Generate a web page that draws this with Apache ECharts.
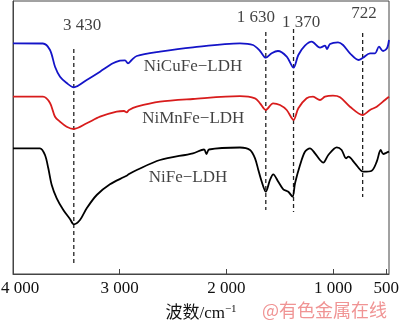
<!DOCTYPE html>
<html>
<head>
<meta charset="utf-8">
<script src="https://cdn.jsdelivr.net/npm/echarts@6/dist/echarts.min.js"></script>
<style>html,body{margin:0;padding:0;background:#fff;}#c{width:400px;height:322px;}</style>
</head>
<body>
<div id="c"></div>
<script>
// ---- data (wavenumber cm^-1, transmittance a.u.) ----
const nicufe = [[4000,230.7],[3720,230.5],[3653,224],[3606,207.3],[3559,197.3],[3497,191],[3430,186.7],[3309,194],[3184,202.3],[3063,210.7],[2997,213.3],[2950,213.7],[2922,210.7],[2887,214],[2840,218],[2622,222.3],[2313,226.7],[1872,230.7],[1750,229],[1684,223],[1630,216.3],[1575,220.7],[1516,223],[1434,217.3],[1370,206.3],[1325,219],[1263,228.3],[1200,232.3],[1122,226.3],[1075,228.3],[1056,225],[1028,230],[953,231.7],[906,229],[841,220.7],[760,214],[719,216.3],[653,220.7],[606,220.7],[569,227.3],[531,223],[494,225.7],[475,234]];
const nimnfe = [[4000,177.3],[3719,177.3],[3653,171],[3606,157.3],[3559,152.3],[3497,147.3],[3430,145],[3309,150.7],[3184,157.3],[3028,162.3],[2959,163],[2934,161.7],[2912,164],[2840,167.3],[2622,172.3],[2313,175],[1872,177.8],[1731,175.7],[1684,170.7],[1630,164],[1562,170.7],[1497,169],[1434,164],[1370,154],[1325,165.7],[1247,175.7],[1187,177.3],[1122,174],[1075,177.3],[1000,178.3],[934,176.7],[841,167.3],[722,159],[653,164],[590,167.3],[513,174],[475,177.3]];
const nife = [[4000,125.7],[3747,125.7],[3700,119],[3669,105.7],[3637,89],[3590,75.7],[3528,64],[3466,55],[3430,49.7],[3372,54],[3309,65.7],[3215,79],[3091,89.7],[2959,97],[2934,98.3],[2912,100],[2840,104],[2622,114],[2313,120.7],[2209,124.5],[2186,120],[2162,124.5],[1872,126.5],[1778,124],[1731,115.7],[1700,104],[1668,92.3],[1630,82.3],[1591,94],[1560,99.7],[1513,92.3],[1466,84.7],[1419,82.3],[1380,77.3],[1356,90.7],[1309,109],[1263,122.3],[1216,125.7],[1169,120.7],[1122,114],[1091,111.3],[1044,119],[965,126.7],[919,124],[878,115.7],[856,117.3],[794,110.7],[716,102.3],[637,103.3],[590,112.3],[553,124],[528,120],[497,121.3],[475,122.3]];
const peakPositions = [3430, 1630, 1370, 722];
const peakTops = [225, 242, 245, 241];
const peakBottoms = [9, 64, 62, 77];
const peakLabels = ['3 430', '1 630', '1 370', '722'];
const peakLabelPos = [[3353,248],[1722,256],[1300,251],[709,260]];
const sampleNames = ['NiCuFe\u2212LDH', 'NiMnFe\u2212LDH', 'NiFe\u2212LDH'];
const sampleLabelPos = [[2312,207.3],[2310,155.7],[2359,96.3]];
const xTicks = [4000, 3000, 2000, 1000, 500];

const serif = "'Liberation Serif','Times New Roman',serif";
const chart = echarts.init(document.getElementById('c'), null, {renderer:'canvas'});

const series = [];
[[nicufe,'#1414c8'],[nimnfe,'#d81c1c'],[nife,'#000000']].forEach(([d,c],i)=>{
  series.push({type:'line', data:d, showSymbol:false, smooth:0.3, lineStyle:{color:c,width:1.8}, z:3, silent:true});
});
peakPositions.forEach((p,i)=>{
  series.push({type:'line', data:[[p,peakTops[i]],[p,peakBottoms[i]]], showSymbol:false,
    lineStyle:{color:'#222',width:1.3,type:[4,3]}, z:2, silent:true});
});
series.push({type:'scatter', symbolSize:0, silent:true, z:5,
  data: peakLabels.map((t,i)=>({name:t, value:peakLabelPos[i]})),
  label:{show:true, position:'inside', formatter:p=>p.name, color:'#111', fontFamily:serif, fontSize:17}});
series.push({type:'scatter', symbolSize:0, silent:true, z:5,
  data: sampleNames.map((t,i)=>({name:t, value:sampleLabelPos[i]})),
  label:{show:true, position:'inside', formatter:p=>p.name, color:'#111', fontFamily:serif, fontSize:17}});

chart.setOption({
  animation:false,
  backgroundColor:'#fff',
  grid:{left:13, right:11, top:1, bottom:48, containLabel:false, outerBoundsMode:'none',
    show:true, borderColor:'#444', borderWidth:1, backgroundColor:'transparent'},
  xAxis:{type:'value', min:475, max:4000, inverse:true,
    axisLine:{show:true, lineStyle:{color:'#444',width:1}},
    axisTick:{show:true, inside:true, length:5, customValues:xTicks, lineStyle:{color:'#444'}},
    splitLine:{show:false},
    axisLabel:{customValues:xTicks, margin:6, color:'#111', fontFamily:serif, fontSize:17, hideOverlap:false,
      formatter:v=>{
        const s = v>=1000 ? Math.floor(v/1000)+' '+String(v%1000).padStart(3,'0') : String(v);
        return v===4000 ? '{f|'+s+'}' : s;
      },
      rich:{f:{padding:[0,0,0,14], fontFamily:serif, fontSize:17, color:'#111'}}
    },
    name:'{a|波数/cm}{b|\u22121}', nameLocation:'middle', nameGap:30,
    nameTextStyle:{rich:{
      a:{fontFamily:"'Liberation Serif','Noto Sans CJK SC',serif", fontSize:17, color:'#111'},
      b:{fontFamily:serif, fontSize:11, color:'#111', padding:[0,0,8,0]}
    }}
  },
  yAxis:{type:'value', min:0, max:273, show:true,
    axisLine:{show:true, lineStyle:{color:'#444'}}, axisTick:{show:false}, axisLabel:{show:false}, splitLine:{show:false}},
  graphic:[{type:'text', left:262, top:301, style:{text:'@有色金属在线', font:"18px 'Noto Sans CJK SC', sans-serif", fill:'#f09494'}}],
  series:series
});
</script>
</body>
</html>
